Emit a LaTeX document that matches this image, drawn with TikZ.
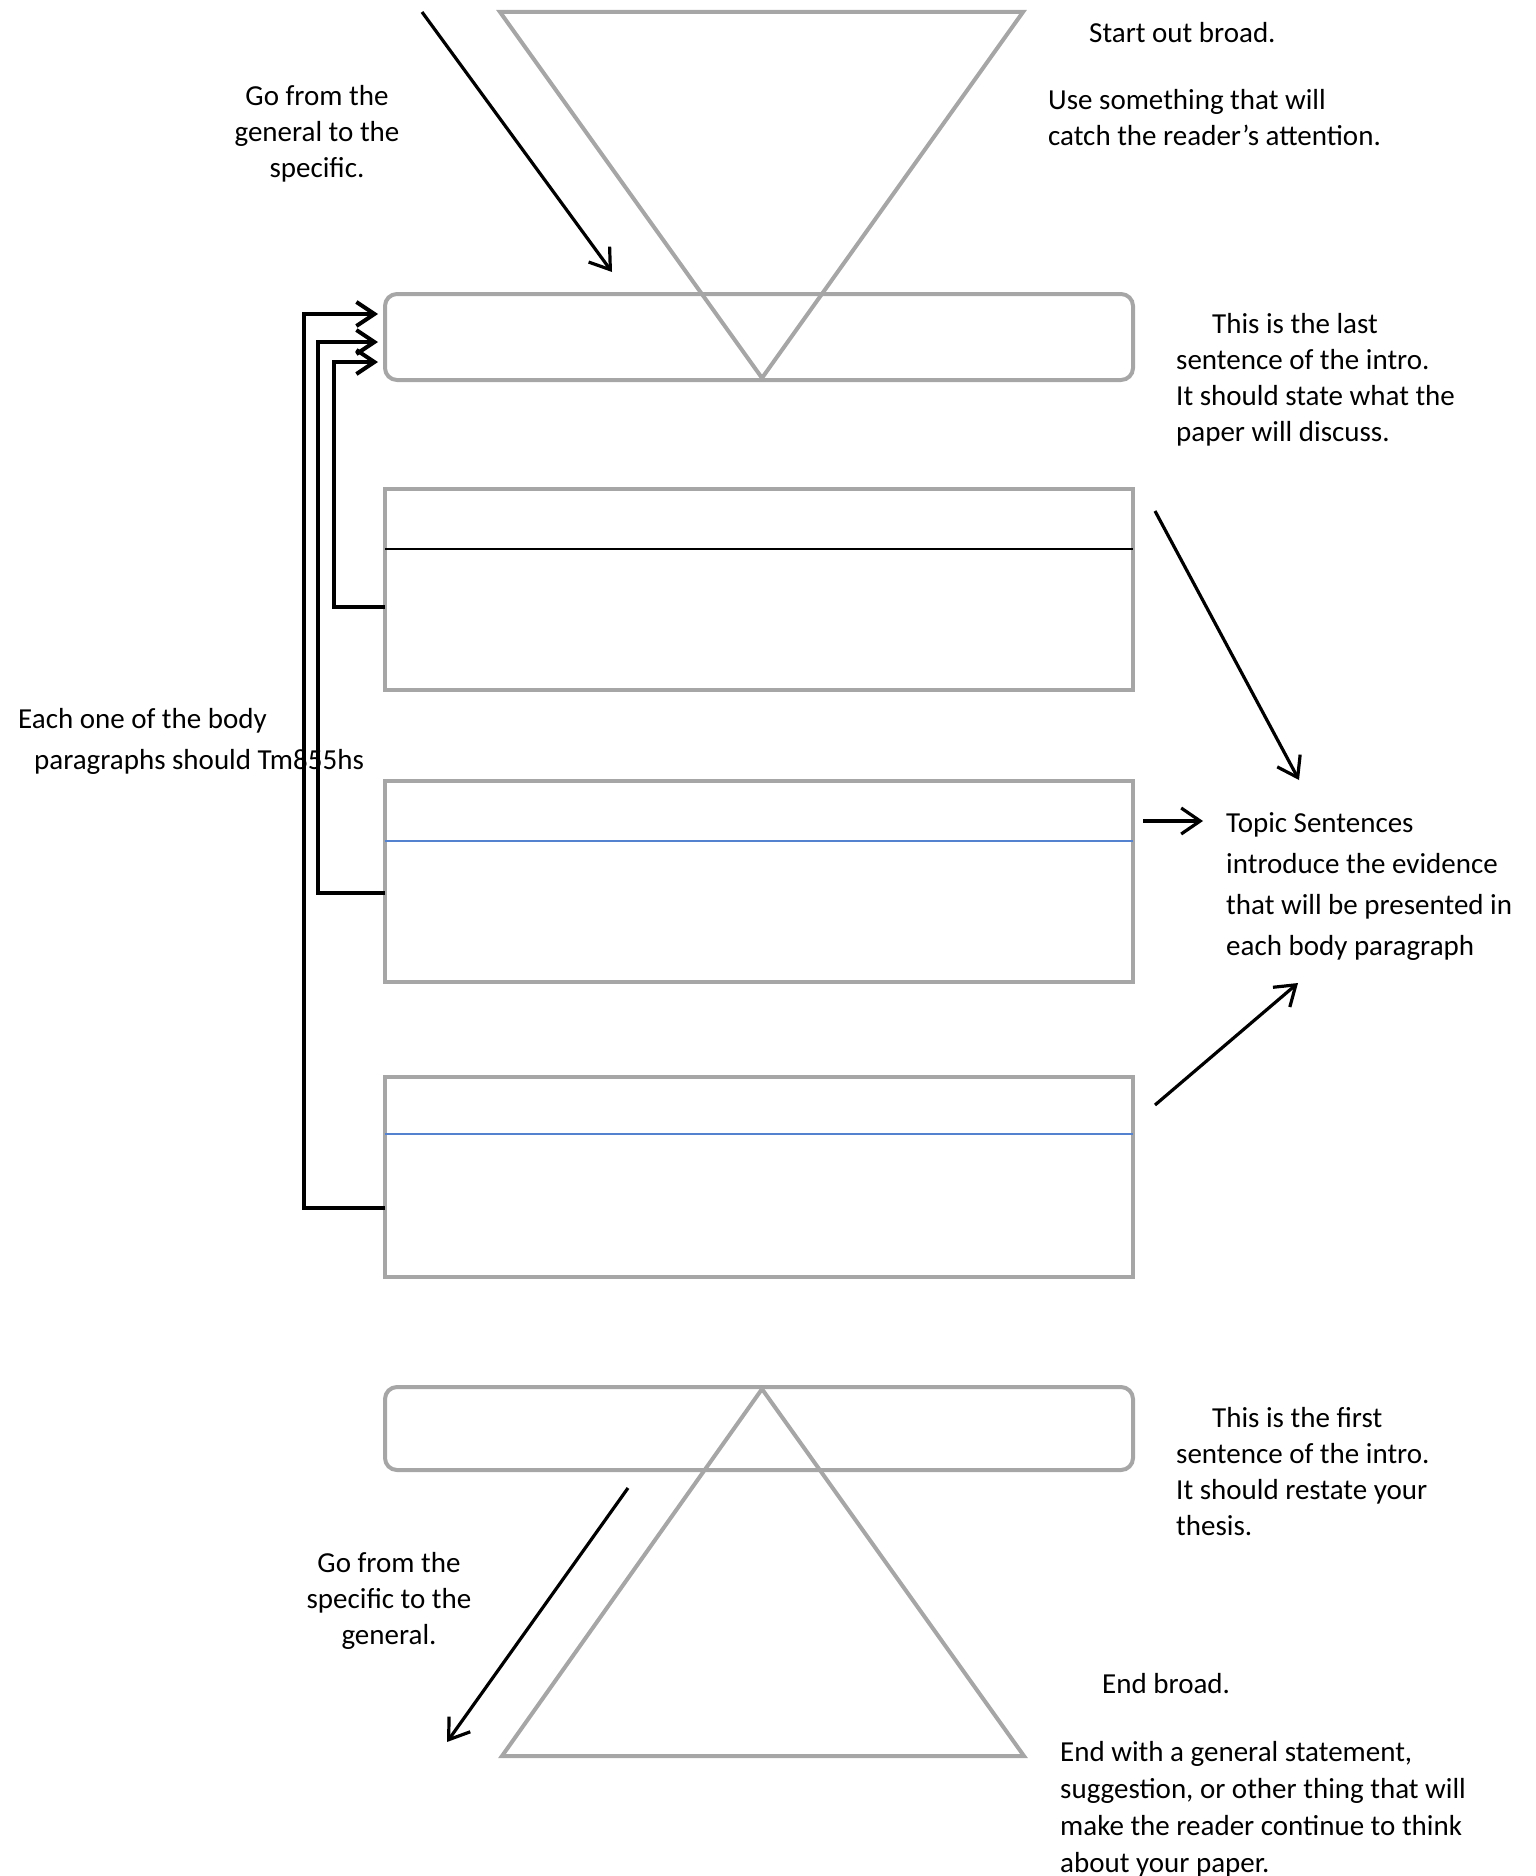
\documentclass[tikz,border=0pt]{standalone}
\usepackage{fontspec}
\setmainfont{Carlito}
\usetikzlibrary{arrows.meta}
\definecolor{boxgray}{RGB}{166,166,166}
\definecolor{ruleblue}{RGB}{84,130,206}
\tikzset{
  outline/.style={draw=boxgray, line width=4pt},
  textbox/.style={outline, rounded corners=12pt, minimum width=748pt, inner sep=0pt, outer sep=0pt},
  bodybox/.style={outline, minimum width=748pt, minimum height=201pt, inner sep=0pt, outer sep=0pt},
  note/.style={font=\fontsize{29}{36}\selectfont, align=left, anchor=north west, inner sep=0pt},
  widenote/.style={note, font=\fontsize{29}{41}\selectfont},
  pointer/.style={line width=3.2pt, -{Straight Barb[length=19pt,width=26pt]}},
  bracket/.style={line width=4pt, -{Straight Barb[length=18pt,width=24pt]}},
}
\begin{document}
\begin{tikzpicture}[x=1pt, y=-1pt]
    \useasboundingbox (0,0) rectangle (1535,1876);

    % boxes
    \node[textbox, minimum height=86pt] (thesis) at (759,337) {};
    \node[bodybox] (body1) at (759,589.5) {};
    \node[bodybox] (body2) at (759,881.5) {};
    \node[bodybox, minimum height=200pt] (body3) at (759,1177) {};
    \node[textbox, minimum height=83pt] (restate) at (759,1428.5) {};

    \draw[line width=2pt] (body1.west |- 0,549) -- (body1.east |- 0,549);
    \draw[ruleblue, line width=1.6pt] (body2.west |- 0,841) -- (body2.east |- 0,841);
    \draw[ruleblue, line width=1.6pt] (body3.west |- 0,1134) -- (body3.east |- 0,1134);

    % funnels
    \coordinate (TL) at (500,12);
    \coordinate (TR) at (1023,12);
    \coordinate (TA) at (762,378);
    \coordinate (BL) at (502,1756);
    \coordinate (BR) at (1024,1756);
    \coordinate (BA) at (762,1389);
    \draw[outline] (TL) -- (TR) -- (TA) -- cycle;
    \draw[outline] (BA) -- (BR) -- (BL) -- cycle;

    % brackets back to the thesis
    \draw[bracket] (body3.west |- 0,1208) -| (304,314) -- (378,314);
    \draw[bracket] (body2.west |- 0,893) -| (318,342) -- (378,342);
    \draw[bracket] (body1.west |- 0,607) -| (334,362) -- (378,362);

    % pointers
    \coordinate (gs0) at (422,12);
    \coordinate (gs1) at (612,272);
    \coordinate (ts0) at (1155,511);
    \coordinate (ts1) at (1299,780);
    \coordinate (tm0) at (1143,821);
    \coordinate (tm1) at (1203,821);
    \coordinate (tb0) at (1155,1105);
    \coordinate (tb1) at (1298,983);
    \coordinate (sg0) at (628,1488);
    \coordinate (sg1) at (447,1742);
    \draw[pointer] (gs0) -- (gs1);
    \draw[pointer] (ts0) -- (ts1);
    \draw[pointer] (tm0) -- (tm1);
    \draw[pointer] (tb0) -- (tb1);
    \draw[pointer] (sg0) -- (sg1);

    % notes
    \node[note, align=center, anchor=north] (gentospec) at (317,85) {Go from the\\general to the\\specific.};
    \node[note] (startbroad) at (1089,22) {Start out broad.};
    \node[note] (catch) at (1048,89) {Use something that will\\catch the reader’s attention.};
    \node[note] (lastsent) at (1176,313) {\hspace*{36pt}This is the last\\sentence of the intro.\\It should state what the\\paper will discuss.};
    \node[widenote] (eachone) at (18,708) {Each one of the body\\\hspace*{16pt}paragraphs should Tm855hs};
    \node[widenote] (topic) at (1226,812) {Topic Sentences\\introduce the evidence\\that will be presented in\\each body paragraph};
    \node[note] (firstsent) at (1176,1407) {\hspace*{36pt}This is the first\\sentence of the intro.\\It should restate your\\thesis.};
    \node[note, align=center, anchor=north] (spectogen) at (389,1552) {Go from the\\specific to the\\general.};
    \node[note] (endbroad) at (1102,1673) {End broad.};
    \node[note, font=\fontsize{29}{37}\selectfont] (endwith) at (1060,1741) {End with a general statement,\\suggestion, or other thing that will\\make the reader continue to think\\about your paper.};
\end{tikzpicture}
\end{document}
